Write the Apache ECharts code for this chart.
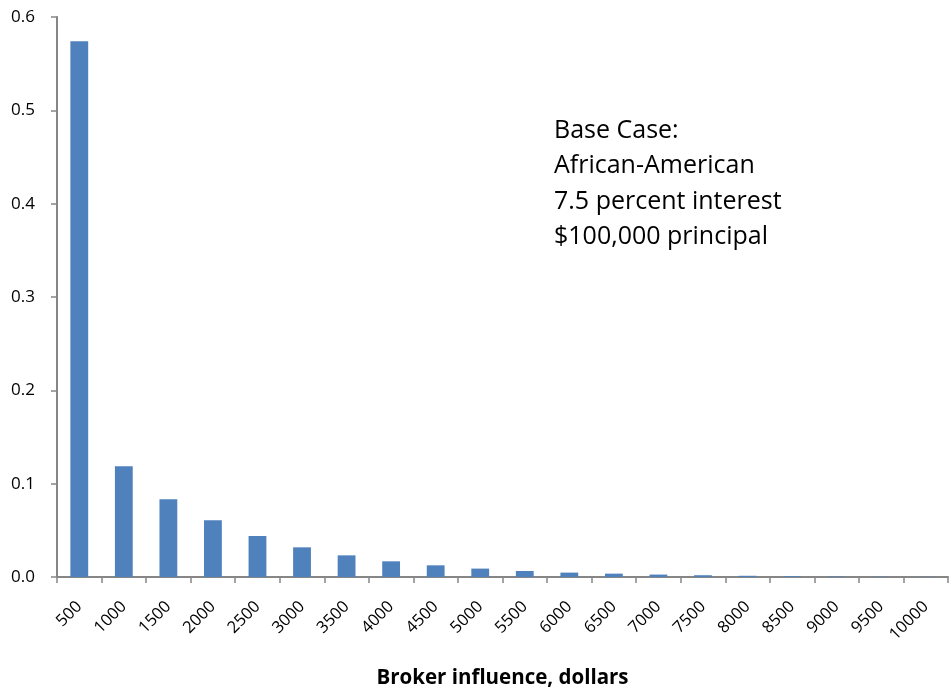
<!DOCTYPE html>
<html>
<head>
<meta charset="utf-8">
<script src="https://cdn.jsdelivr.net/npm/echarts@6/dist/echarts.min.js"></script>
<style>html,body{margin:0;padding:0;background:#fff}#c{width:952px;height:691px}</style>
</head>
<body>
<div id="c"></div>
<script>
const categories = ['500','1000','1500','2000','2500','3000','3500','4000','4500','5000','5500','6000','6500','7000','7500','8000','8500','9000','9500','10000'];
const values = [0.574,0.1186,0.0833,0.0607,0.0439,0.0318,0.0232,0.0168,0.0125,0.009,0.0064,0.0047,0.0036,0.0026,0.0019,0.0013,0.0008,0.0005,0.0003,0.0002];
const yTicks = [0,0.1,0.2,0.3,0.4,0.5,0.6];
const xTitle = 'Broker influence, dollars';
const noteLines = ['Base Case:','African-American','7.5 percent interest','$100,000 principal'];

const font = '"Open Sans", "Liberation Sans", sans-serif';
const chart = echarts.init(document.getElementById('c'));
chart.setOption({
  animation: false,
  grid: {left: 57, right: 4, top: 17, bottom: 114, containLabel: false, outerBoundsMode: 'none'},
  xAxis: {
    type: 'category',
    data: categories,
    boundaryGap: true,
    axisLine: {lineStyle: {color: '#868686', width: 2}},
    axisTick: {show: true, alignWithLabel: false, length: 6, lineStyle: {color: '#868686', width: 1.5}},
    axisLabel: {rotate: 45, color: '#000', fontSize: 16.5, fontFamily: font, margin: 27, interval: 0},
    name: xTitle,
    nameLocation: 'middle',
    nameGap: 91,
    nameTextStyle: {fontSize: 20.5, fontWeight: 'bold', color: '#000', fontFamily: font}
  },
  yAxis: {
    type: 'value',
    min: 0, max: yTicks[yTicks.length-1], interval: 0.1,
    splitLine: {show: false},
    axisLine: {show: true, lineStyle: {color: '#868686', width: 2}},
    axisTick: {show: true, length: 6, lineStyle: {color: '#868686', width: 1.5}},
    axisLabel: {color: '#000', fontSize: 17, fontFamily: font, margin: 22, formatter: v => v.toFixed(1)}
  },
  series: [{
    type: 'bar',
    data: values,
    barWidth: '40%',
    itemStyle: {color: '#4f81bd'}
  }],
  graphic: [{
    type: 'text',
    left: 554, top: 113,
    style: {text: noteLines.join('\n'), fontSize: 25, lineHeight: 35.5, fill: '#000', fontFamily: font}
  }]
});
</script>
</body>
</html>
